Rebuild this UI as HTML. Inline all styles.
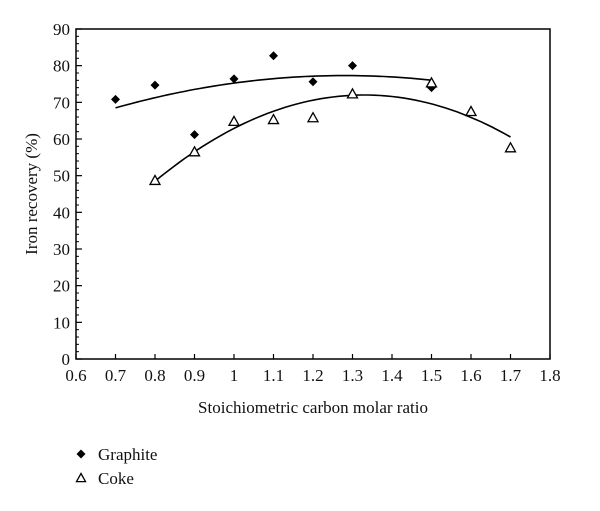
<!DOCTYPE html>
<html><head><meta charset="utf-8"><style>
body{margin:0;background:#fff;}
svg text{font-family:"Liberation Serif",serif;fill:#111;}
</style></head><body>
<svg id="c" width="600" height="506"></svg>
<script>
const xTicks=[0.6,0.7,0.8,0.9,1,1.1,1.2,1.3,1.4,1.5,1.6,1.7,1.8];
const yTicks=[0,10,20,30,40,50,60,70,80,90];
const graphiteX=[0.7,0.8,0.9,1.0,1.1,1.2,1.3,1.5];
const graphiteY=[70.8,74.7,61.2,76.4,82.7,75.6,80.0,74.0];
const cokeX=[0.8,0.9,1.0,1.1,1.2,1.3,1.5,1.6,1.7];
const cokeY=[48.7,56.5,64.8,65.3,65.8,72.3,75.3,67.5,57.6];
// quadratic trend: [peakX, peakY, curvature, xStart, xEnd]
const graphiteFit=[1.28,77.3,26.2,0.7,1.5];
const cokeFit=[1.33,72.0,83.7,0.8,1.7];

const NS="http://www.w3.org/2000/svg";
const svg=document.getElementById('c');
const L=76,R=550,T=29,B=359;
const sx=v=>L+(v-0.6)/(1.2)*(R-L);
const sy=v=>B-v/90*(B-T);
function mk(tag,attrs,parent){const e=document.createElementNS(NS,tag);for(const k in attrs)e.setAttribute(k,attrs[k]);(parent||svg).appendChild(e);return e;}

const frame=mk('rect',{x:L,y:T,width:R-L,height:B-T,fill:'none',stroke:'#000','stroke-width':1.5});



xTicks.forEach(v=>{
  const t=mk('line',{x1:sx(v),x2:sx(v),y1:B,y2:B-5,stroke:'#000','stroke-width':1.2});
  
  
  const l=mk('text',{x:sx(v),y:B+22,'text-anchor':'middle','font-size':17});
  l.textContent=String(v);
  
  
});
yTicks.forEach((v,i)=>{
  const t=mk('line',{x1:L,x2:L+6,y1:sy(v),y2:sy(v),stroke:'#000','stroke-width':1.2});
  
  
  if(i<yTicks.length-1){for(let k=1;k<5;k++){const m=mk('line',{x1:L,x2:L+3,y1:sy(v+2*k),y2:sy(v+2*k),stroke:'#000','stroke-width':1});
    
    }}
  const l=mk('text',{x:L-6,y:sy(v)+6,'text-anchor':'end','font-size':17});
  l.textContent=String(v);
  
  
});

function fitPath(f){let d='';for(let i=0;i<=60;i++){const x=f[3]+(f[4]-f[3])*i/60;const y=f[1]-f[2]*(x-f[0])*(x-f[0]);d+=(i?'L':'M')+sx(x).toFixed(1)+' '+sy(y).toFixed(1);}return d;}
const gl=mk('path',{d:fitPath(graphiteFit),fill:'none',stroke:'#000','stroke-width':1.6});


const cl=mk('path',{d:fitPath(cokeFit),fill:'none',stroke:'#000','stroke-width':1.6});



function diamond(cx,cy,s){return `${cx},${cy-s} ${cx+s},${cy} ${cx},${cy+s} ${cx-s},${cy}`;}
function tri(cx,cy,s){return `${cx},${cy-s} ${cx+s},${cy+s*0.8} ${cx-s},${cy+s*0.8}`;}
graphiteX.forEach((x,i)=>{
  const p=mk('polygon',{points:diamond(sx(x),sy(graphiteY[i]),4.5),fill:'#000'});
  
  
});
cokeX.forEach((x,i)=>{
  const p=mk('polygon',{points:tri(sx(x),sy(cokeY[i]),5),fill:'#fff',stroke:'#000','stroke-width':1.3});
  
  
});

const yt=mk('text',{x:0,y:0,'text-anchor':'middle','font-size':17,transform:'translate(37,194) rotate(-90)'});
yt.textContent='Iron recovery (%)';


const xt=mk('text',{x:313,y:413,'text-anchor':'middle','font-size':17});
xt.textContent='Stoichiometric carbon molar ratio';



const lg=mk('g',{});


const d1=mk('polygon',{points:diamond(81,454,4.5),fill:'#000'},lg);


const t1=mk('text',{x:98,y:460,'font-size':17},lg);t1.textContent='Graphite';


const d2=mk('polygon',{points:tri(81,478,4.5),fill:'#fff',stroke:'#000','stroke-width':1.3},lg);


const t2=mk('text',{x:98,y:484,'font-size':17},lg);t2.textContent='Coke';


</script>
</body></html>
